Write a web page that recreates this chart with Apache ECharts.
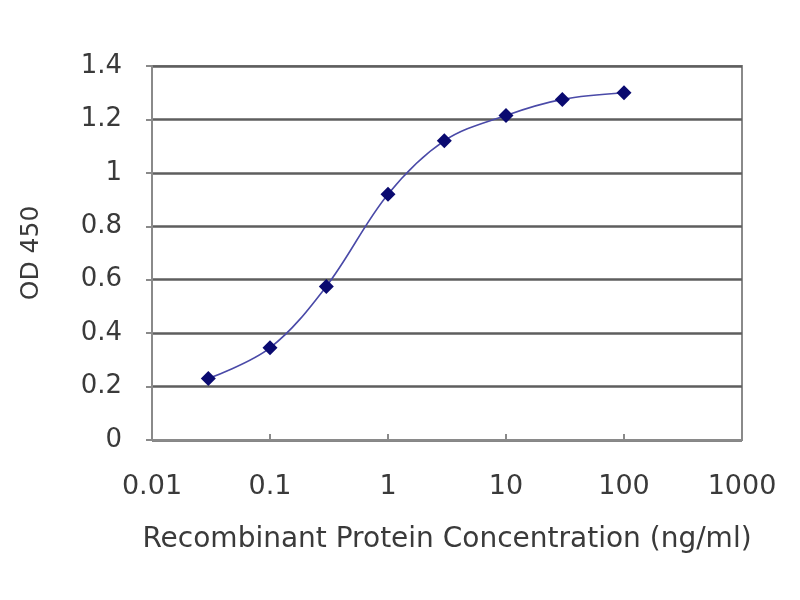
<!DOCTYPE html>
<html>
<head>
<meta charset="utf-8">
<script src="https://cdn.jsdelivr.net/npm/echarts@6/dist/echarts.min.js"></script>
<style>
  html, body { margin: 0; padding: 0; background: #fff; }
  #main { width: 800px; height: 600px; }
</style>
</head>
<body>
<div id="main"></div>
<script>
// concentrations (ng/ml) and OD 450 readings
var concentrations = [0.03, 0.1, 0.3, 1, 3, 10, 30, 100]
var odValues = [0.23, 0.345, 0.575, 0.92, 1.12, 1.215, 1.275, 1.3]
var xLabel = 'Recombinant Protein Concentration (ng/ml)'
var yLabel = 'OD 450'

var points = concentrations.map(function (c, i) { return [c, odValues[i]] })

var myChart = echarts.init(document.getElementById('main'))
myChart.setOption({
    animation: false,
    backgroundColor: '#fff',
    grid: {
        left: 152,
        right: 58,
        top: 66,
        bottom: 160,
        show: true,
        borderColor: '#8a8a8a',
        borderWidth: 2
    },
    xAxis: {
        type: 'log',
        logBase: 10,
        min: 0.01,
        max: 1000,
        name: xLabel,
        nameLocation: 'middle',
        nameGap: 86,
        nameTextStyle: { fontFamily: 'DejaVu Sans', fontSize: 28, color: '#3a3a3a' },
        axisLine: { lineStyle: { color: '#8a8a8a', width: 2 } },
        axisTick: { inside: true, length: 6, lineStyle: { color: '#8a8a8a', width: 2 } },
        axisLabel: {
            margin: 33,
            fontFamily: 'DejaVu Sans',
            fontSize: 27,
            color: '#3a3a3a',
            formatter: function (v) { return String(v) }
        },
        splitLine: { show: false }
    },
    yAxis: {
        type: 'value',
        min: 0,
        max: 1.4,
        interval: 0.2,
        name: yLabel,
        nameLocation: 'middle',
        nameGap: 108,
        nameTextStyle: { fontFamily: 'DejaVu Sans', fontSize: 25, color: '#3a3a3a' },
        axisLine: { show: true, lineStyle: { color: '#8a8a8a', width: 2 } },
        axisTick: { show: true, length: 6, lineStyle: { color: '#8a8a8a', width: 2 } },
        axisLabel: {
            margin: 30,
            fontFamily: 'DejaVu Sans',
            fontSize: 26,
            color: '#3a3a3a',
            formatter: function (v) { return String(Math.round(v * 10) / 10) }
        },
        splitLine: { show: true, lineStyle: { color: '#5e5e5e', width: 2.5 } }
    },
    series: [
        {
            type: 'line',
            data: points,
            smooth: 0.35,
            symbol: 'diamond',
            symbolSize: 15,
            itemStyle: { color: '#0a0a70' },
            lineStyle: { color: '#4a4aa8', width: 1.6 }
        }
    ]
})
</script>
</body>
</html>
